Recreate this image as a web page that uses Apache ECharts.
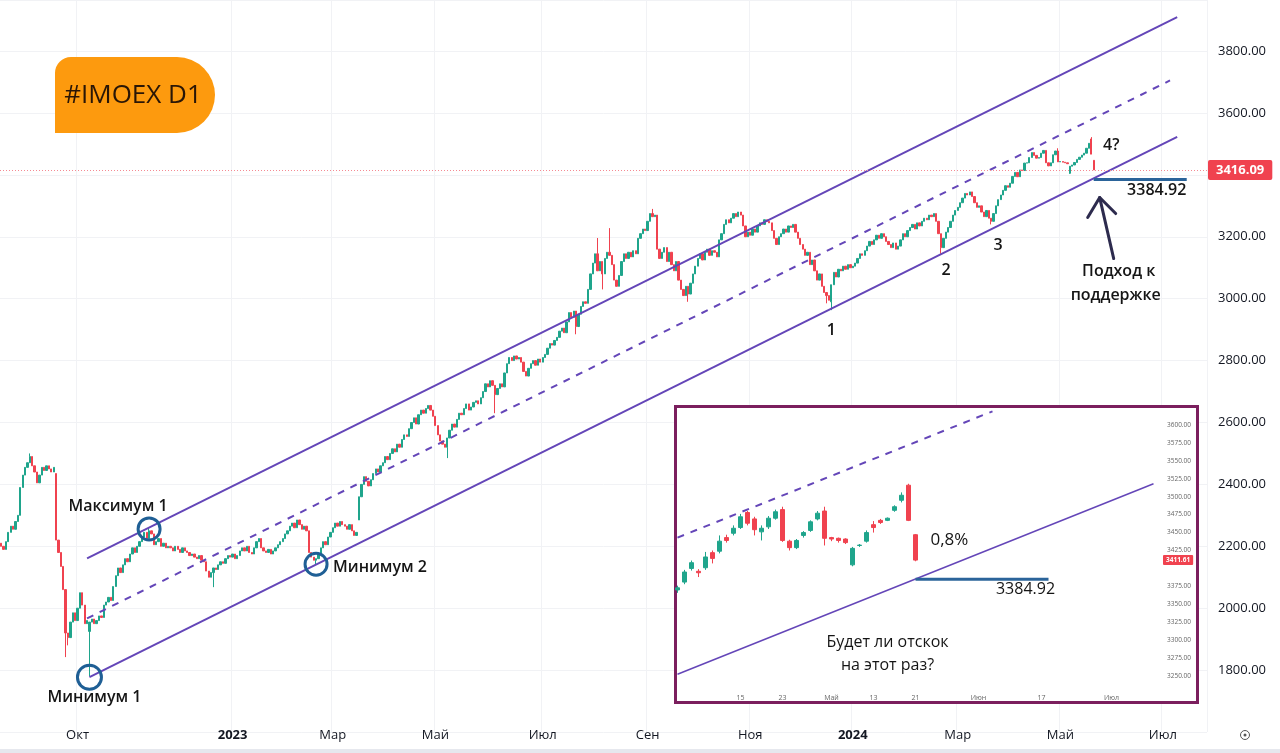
<!DOCTYPE html>
<html>
<head>
<meta charset="utf-8">
<script src="https://cdn.jsdelivr.net/npm/echarts@6/dist/echarts.min.js"></script>
<style>
  html, body { margin: 0; padding: 0; background: #fff; }
  #chart { width: 1280px; height: 753px; }
</style>
</head>
<body>
<div id="chart"></div>
<script>
// daily closes of IMOEX, one per weekday from 2022-08-18 to 2024-05-21
const closes = [
  2200, 2190, 2215, 2245, 2265, 2255, 2280, 2300, 2390, 2430,
  2455, 2470, 2490, 2460, 2440, 2405, 2430, 2455, 2445, 2460,
  2450, 2440, 2455, 2220, 2180, 2135, 2060, 1920, 1905, 1955,
  1985, 1960, 2000, 2050, 2010, 1950, 1960, 1955, 1965, 1950,
  1960, 1975, 1970, 2010, 2020, 2035, 2025, 2070, 2105, 2130,
  2115, 2140, 2160, 2150, 2175, 2195, 2180, 2200, 2215, 2230,
  2245, 2225, 2250, 2240, 2205, 2215, 2225, 2200, 2210, 2195,
  2200, 2195, 2185, 2200, 2190, 2180, 2195, 2185, 2180, 2170,
  2175, 2165, 2160, 2170, 2155, 2150, 2120, 2100, 2115, 2130,
  2125, 2140, 2150, 2145, 2160, 2170, 2165, 2175, 2160, 2170,
  2185, 2195, 2185, 2200, 2180, 2175, 2195, 2215, 2225, 2195,
  2185, 2180, 2190, 2175, 2185, 2195, 2205, 2215, 2225, 2240,
  2250, 2265, 2275, 2260, 2285, 2270, 2255, 2265, 2250, 2180,
  2165, 2155, 2160, 2175, 2195, 2215, 2205, 2230, 2245, 2260,
  2275, 2265, 2280, 2270, 2265, 2255, 2270, 2250, 2235, 2245,
  2360, 2400, 2425, 2410, 2395, 2415, 2435, 2450, 2440, 2460,
  2470, 2490, 2480, 2500, 2515, 2505, 2530, 2520, 2545, 2560,
  2555, 2580, 2600, 2615, 2595, 2625, 2640, 2630, 2645, 2655,
  2640, 2620, 2590, 2560, 2540, 2530, 2520, 2550, 2575, 2595,
  2585, 2610, 2630, 2625, 2645, 2660, 2640, 2650, 2665, 2670,
  2660, 2680, 2700, 2725, 2715, 2735, 2720, 2690, 2710, 2725,
  2715, 2760, 2790, 2810, 2800, 2815, 2805, 2810, 2795, 2765,
  2750, 2775, 2790, 2800, 2785, 2805, 2795, 2810, 2820, 2840,
  2855, 2850, 2865, 2875, 2895, 2905, 2890, 2925, 2955, 2940,
  2960, 2910, 2950, 2975, 2990, 2985, 3030, 3080, 3115, 3145,
  3090, 3120, 3080, 3130, 3150, 3140, 3110, 3060, 3040, 3075,
  3120, 3145, 3130, 3150, 3135, 3155, 3145, 3195, 3210, 3225,
  3220, 3250, 3275, 3265, 3270, 3160, 3130, 3150, 3165, 3120,
  3150, 3110, 3090, 3120, 3060, 3030, 3010, 3040, 3015, 3050,
  3080, 3105, 3130, 3145, 3125, 3150, 3160, 3140, 3155, 3150,
  3135, 3190, 3210, 3240, 3255, 3245, 3260, 3275, 3265, 3280,
  3270, 3235, 3200, 3215, 3205, 3225, 3215, 3235, 3245, 3240,
  3255, 3250, 3245, 3220, 3195, 3175, 3200, 3210, 3225, 3215,
  3235, 3230, 3240, 3215, 3195, 3175, 3160, 3140, 3150, 3110,
  3125, 3090, 3060, 3080, 3040, 3020, 3010, 2995, 3045, 3085,
  3070, 3095, 3090, 3105, 3095, 3110, 3100, 3105, 3115, 3130,
  3145, 3140, 3155, 3170, 3185, 3175, 3190, 3205, 3195, 3210,
  3200, 3185, 3175, 3165, 3180, 3160, 3170, 3190, 3210, 3200,
  3220, 3230, 3240, 3225, 3245, 3235, 3250, 3260, 3255, 3270,
  3265, 3275, 3250, 3210, 3165, 3195, 3215, 3230, 3250, 3270,
  3285, 3295, 3310, 3325, 3340, 3335, 3345, 3330, 3310, 3295,
  3300, 3280, 3265, 3285, 3260, 3250, 3275, 3300, 3320, 3335,
  3350, 3365, 3360, 3373, 3395, 3408, 3394, 3416, 3414, 3438,
  3439, 3456, 3472, 3463, 3454, 3456, 3470, 3479, 3439, 3429,
  3439, 3465, 3477, 3442, 3443, 3441, 3439, 3436, 3428, 3432,
  3440, 3450, 3457, 3464, 3470, 3486, 3502, 3467, 3416.09
];
// opens that gap away from the previous close (otherwise open = previous close)
const gapOpens = { 0: 2210, 23: 2435, 37: 1925, 150: 2285, 348: 2990, 448: 3405, 457: 3516, 458: 3447 };
// visible long shadows
const lowWicks = { 27: 1842, 28: 1880, 37: 1780, 89: 2068, 132: 2140, 187: 2485, 207: 2630, 241: 2885,
  252: 3030, 288: 2990, 346: 2985, 348: 2963, 394: 3145, 415: 3240, 448: 3403 };
const highWicks = { 12: 2500, 62: 2262, 250: 3196, 255: 3228, 273: 3290, 443: 3486, 457: 3522 };

const axisLength = 506;
const xTicks = [
  ['2022-10-03', 'Окт'], ['2023-01-02', '2023'], ['2023-03-01', 'Мар'], ['2023-05-01', 'Май'],
  ['2023-07-03', 'Июл'], ['2023-09-01', 'Сен'], ['2023-11-01', 'Ноя'], ['2024-01-01', '2024'],
  ['2024-03-01', 'Мар'], ['2024-05-01', 'Май'], ['2024-07-01', 'Июл']
];
const lastPrice = 3416.09;
const supportLevel = 3384.92;

// channel: [candle index, price]
const channelUpper = [[36, 2161], [493, 3910]];
const channelMid = [[36, 1967], [490, 3705]];
const channelLower = [[37, 1777], [493, 3523]];
const supportLine = [[458, supportLevel], [497, supportLevel]];

// inset: daily candles, zoomed
const insetDates = [
  '2024-04-02', '2024-04-03', '2024-04-04', '2024-04-05', '2024-04-08', '2024-04-09', '2024-04-10',
  '2024-04-11', '2024-04-12', '2024-04-15', '2024-04-16', '2024-04-17', '2024-04-18', '2024-04-19',
  '2024-04-22', '2024-04-23', '2024-04-24', '2024-04-25', '2024-04-26', '2024-04-27', '2024-04-29',
  '2024-04-30', '2024-05-02', '2024-05-03', '2024-05-06', '2024-05-07', '2024-05-08', '2024-05-10',
  '2024-05-13', '2024-05-14', '2024-05-15', '2024-05-16', '2024-05-17', '2024-05-20', '2024-05-21',
  '2024-05-22', '2024-05-23', '2024-05-24', '2024-05-27', '2024-05-28', '2024-05-29', '2024-05-30',
  '2024-05-31', '2024-06-03', '2024-06-04', '2024-06-05', '2024-06-06', '2024-06-07', '2024-06-10',
  '2024-06-11', '2024-06-13', '2024-06-14', '2024-06-17', '2024-06-18', '2024-06-19', '2024-06-20',
  '2024-06-21', '2024-06-24', '2024-06-25', '2024-06-26', '2024-06-27', '2024-06-28', '2024-07-01',
  '2024-07-02', '2024-07-03', '2024-07-04', '2024-07-05', '2024-07-08', '2024-07-09'
];
// [open, close, low, high]
const insetCandles = [
  [3370, 3373, 3366, 3376], [3381, 3395, 3378, 3398], [3400, 3408, 3397, 3411], [3396, 3394, 3388, 3399],
  [3401, 3416, 3398, 3423], [3422, 3414, 3407, 3425], [3424, 3438, 3421, 3446], [3443, 3439, 3436, 3447],
  [3449, 3456, 3446, 3460], [3457, 3472, 3455, 3476], [3478, 3463, 3460, 3480], [3469, 3454, 3446, 3472],
  [3451, 3456, 3439, 3460], [3458, 3470, 3455, 3473], [3470, 3479, 3468, 3482], [3482, 3439, 3437, 3486],
  [3438, 3429, 3425, 3440], [3429, 3439, 3427, 3441], [3446, 3450, 3443, 3452], [3453, 3465, 3451, 3467],
  [3469, 3477, 3467, 3480], [3480, 3442, 3432, 3486], [3443, 3441, 3438, 3444], [3442, 3439, 3436, 3443],
  [3441, 3436, 3434, 3442], [3405, 3428, 3403, 3430], [3432, 3432.5, 3430, 3434], [3438, 3450, 3436, 3453],
  [3461, 3457, 3450, 3466], [3467, 3464, 3462, 3469], [3467, 3470, 3466, 3471], [3481, 3486, 3479, 3488],
  [3495, 3502, 3492, 3506], [3516, 3467, 3466, 3518], [3447, 3411.61, 3410, 3448]
];
const insetTicks = [
  ['2024-04-15', '15'], ['2024-04-23', '23'], ['2024-05-02', 'Май'], ['2024-05-13', '13'],
  ['2024-05-21', '21'], ['2024-06-03', 'Июн'], ['2024-06-17', '17'], ['2024-07-01', 'Июл']
];
const insetLastPrice = 3411.61;
const insetMid = [[0, 3443], [45, 3619]];
const insetLower = [[0, 3252.5], [68, 3518]];
const insetSupport = [[34, supportLevel], [53, supportLevel]];

const UP = '#1fa58c';
const DOWN = '#f0424f';
const CHANNEL = '#6446b8';
const LEVEL = '#2b649a';
const FONT = '"Open Sans", "Noto Sans", sans-serif';

// weekday calendar for the category axis
const dates = [];
const day = new Date(Date.UTC(2022, 7, 18));
while (dates.length < axisLength) {
  const wd = day.getUTCDay();
  if (wd !== 0 && wd !== 6) dates.push(day.toISOString().slice(0, 10));
  day.setUTCDate(day.getUTCDate() + 1);
}

const candles = closes.map((c, i) => {
  const o = gapOpens[i] !== undefined ? gapOpens[i] : closes[i - 1];
  const lo = lowWicks[i] !== undefined ? lowWicks[i] : Math.min(o, c);
  const hi = highWicks[i] !== undefined ? highWicks[i] : Math.max(o, c);
  return [o, c, lo, hi];
});

const tickMap = Object.fromEntries(xTicks);
const insetTickMap = Object.fromEntries(insetTicks);
const toMain = pts => pts.map(([i, p]) => [dates[i], p]);
const toInset = pts => pts.map(([i, p]) => [insetDates[i], p]);

const lineSeries = (name, data, opts) => Object.assign({
  name, type: 'line', data, symbol: 'none', silent: true, animation: false
}, opts);

const chart = echarts.init(document.getElementById('chart'));

const option = {
  animation: false,
  backgroundColor: '#fff',
  textStyle: { fontFamily: FONT },
  grid: [
    { left: 0, top: 0, width: 1207, height: 732 },
    { left: 674, top: 407, width: 483, height: 287 }
  ],
  xAxis: [
    {
      type: 'category', data: dates, boundaryGap: true,
      axisLine: { show: false }, axisTick: { show: false },
      axisLabel: {
        interval: (idx, val) => tickMap[val] !== undefined,
        formatter: val => /^\d{4}$/.test(tickMap[val]) ? '{y|' + tickMap[val] + '}' : tickMap[val],
        color: '#131722', fontSize: 13, margin: -3, fontFamily: FONT,
        rich: { y: { fontWeight: 'bold', fontSize: 13, color: '#131722' } }
      },
      splitLine: { show: true, interval: (idx, val) => tickMap[val] !== undefined, lineStyle: { color: '#f1f2f5' } }
    },
    {
      type: 'category', data: insetDates, boundaryGap: true, gridIndex: 1, z: 10,
      axisLine: { show: false }, axisTick: { show: false },
      axisLabel: {
        interval: (idx, val) => insetTickMap[val] !== undefined,
        formatter: val => insetTickMap[val],
        color: '#666', fontSize: 7, margin: 0
      },
      splitLine: { show: false }
    }
  ],
  yAxis: [
    {
      type: 'value', position: 'right', min: 1600, max: 3965, interval: 200,
      axisLine: { show: false }, axisTick: { show: false },
      axisLabel: {
        formatter: v => (v % 200 !== 0 || v === 1600 || v === 3400) ? '' : v.toFixed(2),
        color: '#131722', fontSize: 13, margin: 11, fontFamily: FONT
      },
      splitLine: { lineStyle: { color: '#f1f2f5' } }
    },
    {
      type: 'value', position: 'right', gridIndex: 1, min: 3225, max: 3625, interval: 25, z: 10,
      axisLine: { show: false }, axisTick: { show: false },
      axisLabel: {
        formatter: v => (v === 3225 || v === 3625 || v === 3400) ? '' : v.toFixed(2),
        color: '#666', fontSize: 6.5, margin: 10
      },
      splitLine: { show: false }
    }
  ],
  series: [
    {
      name: 'IMOEX', type: 'candlestick', data: candles, barWidth: 1.8,
      itemStyle: { color: UP, color0: DOWN, borderColor: UP, borderColor0: DOWN, borderWidth: 1 },
      markLine: {
        silent: true, symbol: 'none',
        lineStyle: { color: '#f58a93', type: [1, 2], width: 1 },
        label: {
          position: 'end', distance: 1, formatter: lastPrice.toFixed(2),
          backgroundColor: DOWN, color: '#fff', fontWeight: 'bold', fontSize: 13,
          padding: [4, 8, 3, 8], borderRadius: 2
        },
        data: [{ yAxis: lastPrice }]
      }
    },
    lineSeries('upper', toMain(channelUpper), { lineStyle: { color: CHANNEL, width: 2 } }),
    lineSeries('mid', toMain(channelMid), { lineStyle: { color: CHANNEL, width: 2, type: [7, 7] } }),
    lineSeries('lower', toMain(channelLower), { lineStyle: { color: CHANNEL, width: 2 } }),
    lineSeries('support', toMain(supportLine), { lineStyle: { color: LEVEL, width: 3 } }),
    {
      name: 'inset', type: 'candlestick', data: insetCandles, xAxisIndex: 1, yAxisIndex: 1, z: 20,
      barWidth: 5,
      itemStyle: { color: UP, color0: DOWN, borderColor: UP, borderColor0: DOWN, borderWidth: 1 },
      markLine: {
        silent: true, symbol: 'none',
        lineStyle: { color: '#f7c2c6', type: [1, 2], width: 1 },
        label: {
          position: 'end', distance: 6, formatter: insetLastPrice.toFixed(2),
          backgroundColor: DOWN, color: '#fff', fontWeight: 'bold', fontSize: 6.5,
          padding: [2, 3, 1, 3], borderRadius: 1
        },
        data: [{ yAxis: insetLastPrice }]
      }
    },
    lineSeries('inset mid', toInset(insetMid), { xAxisIndex: 1, yAxisIndex: 1, z: 20, lineStyle: { color: CHANNEL, width: 2, type: [7, 7] } }),
    lineSeries('inset lower', toInset(insetLower), { xAxisIndex: 1, yAxisIndex: 1, z: 20, lineStyle: { color: CHANNEL, width: 1.5 } }),
    lineSeries('inset support', toInset(insetSupport), { xAxisIndex: 1, yAxisIndex: 1, z: 20, lineStyle: { color: LEVEL, width: 3 } })
  ]
};

chart.setOption(option);

// annotations anchored to the data coordinates
const px = (i, p) => chart.convertToPixel({ gridIndex: 0 }, [dates[i], p]);
const ipx = (i, p) => chart.convertToPixel({ gridIndex: 1 }, [insetDates[i], p]);

const noteStyle = (text, x, y, extra) => ({
  type: 'text', x, y, z: 30,
  style: Object.assign({
    text, fill: '#151515', font: '600 16px ' + FONT, align: 'center', verticalAlign: 'middle'
  }, extra || {})
});

const circleMarks = [[62, 2256, 11], [132, 2142, 11], [37, 1777, 12]];
const graphics = [];

// inset frame
graphics.push({
  type: 'rect', z: 5, shape: { x: 675.5, y: 406.5, width: 522, height: 296 },
  style: { fill: '#fff', stroke: '#7b1f5e', lineWidth: 3 }
});

// title badge
graphics.push({
  type: 'rect', z: 30, shape: { x: 55, y: 57, width: 160, height: 76, r: [16, 38, 38, 0] },
  style: { fill: '#fd9a0e' }
});
graphics.push({
  type: 'text', x: 133, y: 96, z: 31,
  style: { text: '#IMOEX D1', fill: '#2a1606', font: '26px ' + FONT, align: 'center', verticalAlign: 'middle' }
});

circleMarks.forEach(([i, p, r]) => {
  const [cx, cy] = px(i, p);
  graphics.push({ type: 'circle', z: 30, shape: { cx, cy, r }, style: { fill: 'none', stroke: '#1f5f95', lineWidth: 3 } });
});

const [m1x, m1y] = px(62, 2256);
graphics.push(noteStyle('Максимум 1', m1x - 31, m1y - 23));
const [m2x, m2y] = px(132, 2142);
graphics.push(noteStyle('Минимум 2', m2x + 17, m2y + 3, { align: 'left' }));
const [n1x, n1y] = px(37, 1777);
graphics.push(noteStyle('Минимум 1', n1x + 5, n1y + 20));

const [t1x, t1y] = px(348, 2963);
graphics.push(noteStyle('1', t1x, t1y + 20));
const [t2x, t2y] = px(394, 3145);
graphics.push(noteStyle('2', t2x + 5, t2y + 17));
const [t3x, t3y] = px(415, 3240);
graphics.push(noteStyle('3', t3x + 7, t3y + 21));
const [t4x, t4y] = px(457, 3522);
graphics.push(noteStyle('4?', t4x + 20, t4y + 8));

const [sEx, sEy] = px(497, supportLevel);
graphics.push(noteStyle('3384.92', sEx - 30, sEy + 11));
const [sSx, sSy] = px(458, supportLevel);
graphics.push(noteStyle('Подход к', sSx + 25, sSy + 92));
graphics.push(noteStyle('поддержке', sSx + 22, sSy + 116));

// arrow pointing at the support
const tipX = sSx + 6, tipY = sSy + 18;
graphics.push({
  type: 'polyline', z: 30,
  shape: { points: [[tipX - 12, tipY + 20], [tipX, tipY], [tipX + 16, tipY + 16]] },
  style: { stroke: '#2d2b4e', lineWidth: 3, fill: 'none', lineCap: 'round', lineJoin: 'round' }
});
graphics.push({
  type: 'line', z: 30,
  shape: { x1: tipX, y1: tipY, x2: tipX + 14, y2: tipY + 61 },
  style: { stroke: '#2d2b4e', lineWidth: 3, lineCap: 'round' }
});

// inset notes
const [pcx, pcy] = ipx(34, 3430);
graphics.push(noteStyle('0,8%', pcx + 15, pcy - 7, { align: 'left', font: '17px ' + FONT }));
const [isx, isy] = ipx(53, supportLevel);
graphics.push(noteStyle('3384.92', isx - 23, isy + 10, { font: '16px ' + FONT }));
const [qx, qy] = ipx(30, 3300);
graphics.push(noteStyle('Будет ли отскок', qx, qy + 2, { font: '500 16px ' + FONT }));
graphics.push(noteStyle('на этот раз?', qx, qy + 25, { font: '500 16px ' + FONT }));

// bottom strip and settings glyph
graphics.push({ type: 'rect', z: 30, shape: { x: 0, y: 749, width: 1280, height: 4 }, style: { fill: '#e6e8ee' } });
graphics.push({ type: 'circle', z: 30, shape: { cx: 1245, cy: 735, r: 4.5 }, style: { fill: 'none', stroke: '#555', lineWidth: 1 } });
graphics.push({ type: 'circle', z: 30, shape: { cx: 1245, cy: 735, r: 1.5 }, style: { fill: '#555' } });

chart.setOption({ graphic: { elements: graphics } });
</script>
</body>
</html>
